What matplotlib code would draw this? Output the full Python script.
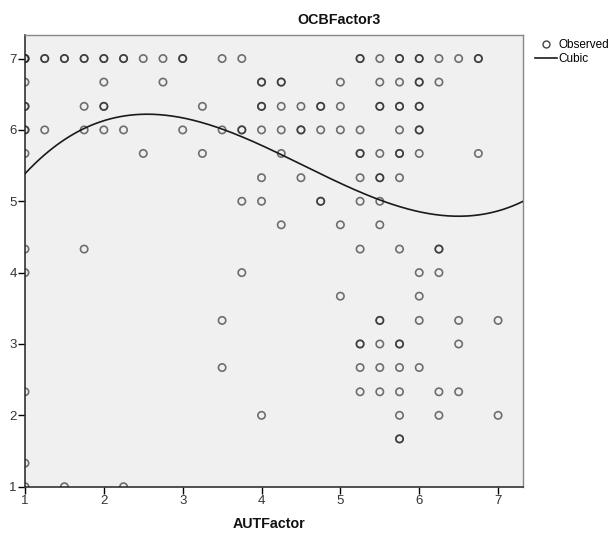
import matplotlib
matplotlib.use("Agg")
import matplotlib.pyplot as plt
import numpy as np
from matplotlib.lines import Line2D

plt.rcParams["font.family"] = ["Liberation Sans", "DejaVu Sans"]

# Observed points (AUTFactor, OCBFactor3); repeated pairs = overlapping cases
aut = [
    # y = 7
    1, 1, 1, 1.25, 1.25, 1.5, 1.5, 1.75, 1.75, 2, 2, 2.25, 2.25, 2.5, 2.75, 3, 3,
    3.5, 3.75, 5.25, 5.25, 5.5, 5.75, 5.75, 6, 6, 6.25, 6.5, 6.75, 6.75,
    # y = 6.67
    1, 2, 2.75, 4, 4, 4.25, 4.25, 5, 5.5, 5.75, 6, 6, 6.25,
    # y = 6.33
    1, 1, 1.75, 2, 2, 3.25, 4, 4, 4.25, 4.5, 4.75, 4.75, 5, 5.5, 5.5, 5.75, 5.75, 6, 6,
    # y = 6
    1, 1, 1.25, 1.75, 2, 2.25, 3, 3.5, 3.75, 3.75, 4, 4.25, 4.5, 4.5, 4.75, 5,
    5.25, 5.75, 6, 6,
    # y = 5.67
    1, 2.5, 3.25, 4.25, 5.25, 5.25, 5.5, 5.75, 5.75, 6, 6.75,
    # y = 5.33
    4, 4.5, 5.25, 5.5, 5.5, 5.75,
    # y = 5
    3.75, 4, 4.75, 4.75, 5.25, 5.5,
    # y = 4.67
    4.25, 5, 5.5,
    # y = 4.33
    1, 1.75, 5.25, 5.75, 6.25, 6.25,
    # y = 4
    1, 3.75, 6, 6.25,
    # y = 3.67
    5, 6,
    # y = 3.33
    3.5, 5.5, 5.5, 6, 6.5, 7,
    # y = 3
    5.25, 5.25, 5.5, 5.75, 5.75, 6.5,
    # y = 2.67
    3.5, 5.25, 5.5, 5.75, 6,
    # y = 2.33
    1, 5.25, 5.5, 5.75, 6.25, 6.5,
    # y = 2
    4, 5.75, 6.25, 7,
    # y = 1.67
    5.75, 5.75,
    # y = 1.33
    1,
    # y = 1
    1, 1.5, 2.25,
]
ocb = (
    [7.0] * 30 + [6.67] * 13 + [6.33] * 19 + [6.0] * 20 + [5.67] * 11 + [5.33] * 6
    + [5.0] * 6 + [4.67] * 3 + [4.33] * 6 + [4.0] * 4 + [3.67] * 2 + [3.33] * 6
    + [3.0] * 6 + [2.67] * 5 + [2.33] * 6 + [2.0] * 4 + [1.67] * 2 + [1.33] * 1
    + [1.0] * 3
)

# Cubic fit coefficients (highest power first)
cubic_coef = [0.04641, -0.6300, 2.3077, 3.6624]

x_ticks = [1, 2, 3, 4, 5, 6, 7]
y_ticks = [1, 2, 3, 4, 5, 6, 7]
x_lim = (1, 7.32)
y_lim = (1, 7.33)

W, H = 614, 538
fig = plt.figure(figsize=(W / 100, H / 100), dpi=100)
fig.patch.set_facecolor("white")
ax = fig.add_axes([25 / W, 1 - 486.7 / H, (523.3 - 25) / W, (486.7 - 35) / H])
ax.set_facecolor("#f0f0f0")

sc = ax.scatter(aut, ocb, s=28, facecolors="none",
                edgecolors=(0.12, 0.12, 0.12, 0.62),
                linewidths=1.2, zorder=3)
sc.set_clip_path(ax.patch)

xs = np.linspace(x_lim[0], x_lim[1], 300)
ax.plot(xs, np.polyval(cubic_coef, xs), color="#1a1a1a", lw=1.2, zorder=4)

ax.set_xlim(*x_lim)
ax.set_ylim(*y_lim)
ax.set_xticks(x_ticks)
ax.set_yticks(y_ticks)
ax.tick_params(axis="both", direction="out", length=5, width=1, color="black",
               labelsize=9.5, labelcolor="#333333", pad=1)

for s in ["left", "bottom"]:
    ax.spines[s].set_color("#333333")
    ax.spines[s].set_linewidth(1.2)
for s in ["top", "right"]:
    ax.spines[s].set_color("#888888")
    ax.spines[s].set_linewidth(1.0)

fig.text(339 / W, 1 - 20 / H, "OCBFactor3", ha="center", va="center",
         fontsize=10.3, fontweight="bold", color="#111111")
fig.text(269 / W, 1 - 524 / H, "AUTFactor", ha="center", va="center",
         fontsize=10.3, fontweight="bold", color="#111111")

handles = [
    Line2D([], [], marker="o", linestyle="none", markerfacecolor="none",
           markeredgecolor="#444444", markersize=5, markeredgewidth=1.0),
    Line2D([], [], color="#1a1a1a", lw=1.2),
]
fig.legend(handles, ["Observed", "Cubic"], loc="upper left",
           bbox_to_anchor=(535 / W, 1 - 39 / H), frameon=False, fontsize=8.5,
           handlelength=1.85, handletextpad=0.15, labelspacing=0.2,
           borderpad=0.0, borderaxespad=0.0)

fig.savefig("out.png", dpi=100)
